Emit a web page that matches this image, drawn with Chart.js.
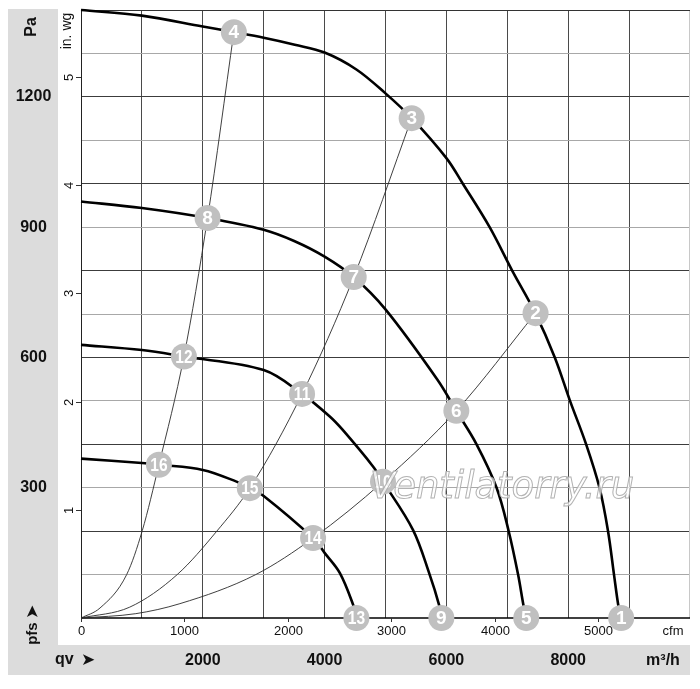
<!DOCTYPE html>
<html>
<head>
<meta charset="utf-8">
<script src="https://cdn.jsdelivr.net/npm/chart.js@4.4.1/dist/chart.umd.min.js"></script>
<style>
  html, body { margin: 0; padding: 0; background: #fff; }
  #wrap { width: 700px; height: 689px; }
</style>
</head>
<body>
<div id="wrap"><canvas id="fanChart" width="700" height="689"></canvas></div>
<script>
// fan curves: air flow qv in m3/h, static pressure in Pa
const curveAq = [0, 1000, 2000, 2510, 3000, 3510, 4000, 4522, 5000, 5430, 6000, 6270, 6710, 7080, 7460, 7780, 8030, 8292, 8514, 8653, 8752, 8825, 8870];
const curveAp = [1400, 1387, 1362, 1349, 1336, 1320, 1302, 1263, 1208, 1151, 1059, 1000, 900, 800, 702, 600, 500, 401, 300, 201, 100, 27, 0];
const curveBq = [0, 1000, 2078, 3000, 3500, 4000, 4478, 5003, 5856, 6163, 6491, 6824, 7021, 7177, 7267, 7311];
const curveBp = [959, 944, 921, 894, 868, 832, 785, 710, 548, 477, 401, 300, 201, 100, 28, 0];
const curveCq = [0, 1000, 1690, 3000, 3630, 4085, 4298, 4795, 4959, 5451, 5725, 5878, 5917];
const curveCp = [629, 617, 602, 571, 516, 464, 433, 349, 314, 203, 100, 31, 0];
const curveDq = [0, 1000, 1280, 2000, 2554, 2772, 3000, 3811, 4000, 4249, 4467, 4522];
const curveDp = [367, 357, 353, 341, 314, 299, 281, 184, 150, 104, 31, 0];

// system (resistance) lines through the operating points
const sys1q = [0, 312, 750, 1006, 1280, 1690, 2078, 2510];
const sys1p = [0, 23, 100, 201, 353, 602, 921, 1349];
const sys2q = [0, 800, 1580, 2230, 2772, 3630, 4478, 5430];
const sys2p = [0, 25, 100, 200, 299, 516, 785, 1151];
const sys3q = [0, 900, 1624, 2870, 3811, 4959, 6163, 7464];
const sys3p = [0, 10, 33, 100, 184, 314, 477, 702];

// numbered operating points
const pointNo = ['1', '2', '3', '4', '5', '6', '7', '8', '9', '10', '11', '12', '13', '14', '15', '16'];
const pointQ = [8870, 7464, 5430, 2510, 7311, 6163, 4478, 2078, 5917, 4959, 3630, 1690, 4522, 3811, 2772, 1280];
const pointP = [0, 702, 1151, 1349, 0, 477, 785, 921, 0, 314, 516, 602, 0, 184, 299, 353];

// axis labels
const m3hLabels = [2000, 4000, 6000, 8000];
const cfmLabels = [0, 1000, 2000, 3000, 4000, 5000];
const paLabels = [300, 600, 900, 1200];
const inwgLabels = [1, 2, 3, 4, 5];
const CFM_TO_M3H = 1.699;
const INWG_TO_PA = 249.09;

var toXY = function(q, p) {
	return q.map(function(v, i) { return { x: v, y: p[i] }; });
};

var fanLine = function(q, p) {
	return {
		type: 'line', data: toXY(q, p), borderColor: '#000', borderWidth: 2.6,
		pointRadius: 0, tension: 0.35, fill: false, clip: false, order: 1
	};
};
var sysLine = function(q, p) {
	return {
		type: 'line', data: toXY(q, p), borderColor: '#2a2a2a', borderWidth: 0.9,
		pointRadius: 0, cubicInterpolationMode: 'monotone', fill: false, clip: false, order: 2
	};
};

const decor = {
	id: 'decor',
	beforeDraw(chart) {
		const c = chart.ctx;
		c.save();
		c.fillStyle = '#dcdcdc';
		c.fillRect(8, 9, 50, 636);
		c.fillRect(8, 645, 682, 30);
		c.restore();
	},
	beforeDatasetsDraw(chart) {
		const c = chart.ctx, a = chart.chartArea, xs = chart.scales.x, ys = chart.scales.y;
		c.save();
		// frame
		c.lineWidth = 1;
		c.strokeStyle = '#c8c8c8';
		c.beginPath(); c.moveTo(a.right - 0.5, a.top); c.lineTo(a.right - 0.5, a.bottom); c.stroke();
		c.strokeStyle = '#333';
		c.beginPath(); c.moveTo(a.left, a.top + 0.5); c.lineTo(a.right, a.top + 0.5); c.stroke();
		c.strokeStyle = '#222';
		c.beginPath(); c.moveTo(a.left + 0.5, a.top); c.lineTo(a.left + 0.5, a.bottom); c.stroke();
		c.strokeStyle = '#000';
		c.lineWidth = 1.6;
		c.beginPath(); c.moveTo(a.left, a.bottom); c.lineTo(a.right, a.bottom); c.stroke();

		// in.wg ticks
		c.lineWidth = 1;
		c.strokeStyle = '#333';
		c.fillStyle = '#111';
		c.font = '13px "Liberation Sans", Arial, sans-serif';
		c.textAlign = 'center';
		c.textBaseline = 'middle';
		inwgLabels.forEach(function(v) {
			const py = Math.round(ys.getPixelForValue(v * INWG_TO_PA)) + 0.5;
			c.beginPath(); c.moveTo(a.left - 5, py); c.lineTo(a.left, py); c.stroke();
			c.save();
			c.translate(69, py);
			c.rotate(-Math.PI / 2);
			c.fillText(String(v), 0, 0);
			c.restore();
		});
		c.save();
		c.translate(67, 31);
		c.rotate(-Math.PI / 2);
		c.font = '14px "Liberation Sans", Arial, sans-serif';
		c.fillText('in. wg', 0, 0);
		c.restore();

		// cfm ticks
		c.font = '13px "Liberation Sans", Arial, sans-serif';
		cfmLabels.forEach(function(v) {
			const px = Math.round(xs.getPixelForValue(v * CFM_TO_M3H)) + 0.5;
			c.beginPath(); c.moveTo(px, a.bottom); c.lineTo(px, a.bottom + 4); c.stroke();
			c.fillText(String(v), px, 631);
		});
		c.fillText('cfm', 673, 631);

		// Pa labels in the left band
		c.font = 'bold 16px "Liberation Sans", Arial, sans-serif';
		paLabels.forEach(function(v) {
			c.fillText(String(v), 33.5, ys.getPixelForValue(v));
		});
		c.save();
		c.translate(32, 27);
		c.rotate(-Math.PI / 2);
		c.fillText('Pa', 0, 0);
		c.restore();
		c.save();
		c.translate(33, 625);
		c.rotate(-Math.PI / 2);
		c.font = 'bold 15px "Liberation Sans", Arial, sans-serif';
		c.fillText('pfs \u27A4', 0, 0);
		c.restore();

		// m3/h labels in the bottom band
		m3hLabels.forEach(function(v) {
			c.fillText(String(v), xs.getPixelForValue(v), 661);
		});
		c.fillText('m\u00B3/h', 663, 661);
		c.textAlign = 'left';
		c.fillText('qv', 55, 660);
		c.font = 'bold 17px "DejaVu Sans", sans-serif';
		c.fillText('\u27A4', 81, 661);
		c.restore();
	},
	afterDatasetsDraw(chart) {
		const c = chart.ctx, xs = chart.scales.x, ys = chart.scales.y;
		c.save();
		c.fillStyle = '#fff';
		c.textAlign = 'center';
		c.textBaseline = 'middle';
		c.font = 'bold 19px "Liberation Sans", Arial, sans-serif';
		pointNo.forEach(function(t, i) {
			const px = xs.getPixelForValue(pointQ[i]);
			const py = ys.getPixelForValue(pointP[i]);
			c.save();
			c.translate(px, py + 1);
			if (t.length > 1) c.scale(0.82, 1);
			c.fillText(t, 0, 0);
			c.restore();
		});
		// watermark
		c.font = 'oblique 37px "DejaVu Sans", sans-serif';
		c.textAlign = 'left';
		c.textBaseline = 'alphabetic';
		c.fillStyle = 'rgba(255,255,255,0.7)';
		c.strokeStyle = 'rgba(170,170,170,0.9)';
		c.lineWidth = 1;
		c.fillText('Ventilatorry.ru', 370, 498);
		c.strokeText('Ventilatorry.ru', 370, 498);
		c.restore();
	}
};

$chart = new Chart(document.getElementById('fanChart').getContext('2d'), {
	type: 'line',
	data: {
		datasets: [
			fanLine(curveAq, curveAp),
			fanLine(curveBq, curveBp),
			fanLine(curveCq, curveCp),
			fanLine(curveDq, curveDp),
			sysLine(sys1q, sys1p),
			sysLine(sys2q, sys2p),
			sysLine(sys3q, sys3p),
			{
				type: 'scatter', data: toXY(pointQ, pointP), pointRadius: 13,
				pointBackgroundColor: '#c0c0c0', pointBorderWidth: 0, pointBorderColor: 'rgba(0,0,0,0)',
				showLine: false, clip: false, order: 0
			}
		]
	},
	options: {
		responsive: false,
		animation: false,
		events: [],
		layout: { autoPadding: false, padding: { left: 81, right: 10, top: 10, bottom: 71 } },
		plugins: { legend: { display: false }, tooltip: { enabled: false } },
		scales: {
			x: {
				type: 'linear', min: 0, max: 10000,
				ticks: { display: false, stepSize: 1000 },
				border: { display: false },
				grid: {
					drawTicks: false, lineWidth: 1,
					color: function(ctx) {
						const v = ctx.tick ? ctx.tick.value : 0;
						if (v === 0 || v === 10000) return 'rgba(0,0,0,0)';
						return '#4a4a4a';
					}
				}
			},
			y: {
				type: 'linear', min: 0, max: 1400,
				ticks: { display: false, stepSize: 100 },
				border: { display: false },
				grid: {
					drawTicks: false, lineWidth: 1,
					color: function(ctx) {
						const v = ctx.tick ? ctx.tick.value : 0;
						if (v === 0 || v === 1400) return 'rgba(0,0,0,0)';
						return v % 200 === 0 ? '#3c3c3c' : '#a8a8a8';
					}
				}
			}
		}
	},
	plugins: [decor]
});
</script>
</body>
</html>
